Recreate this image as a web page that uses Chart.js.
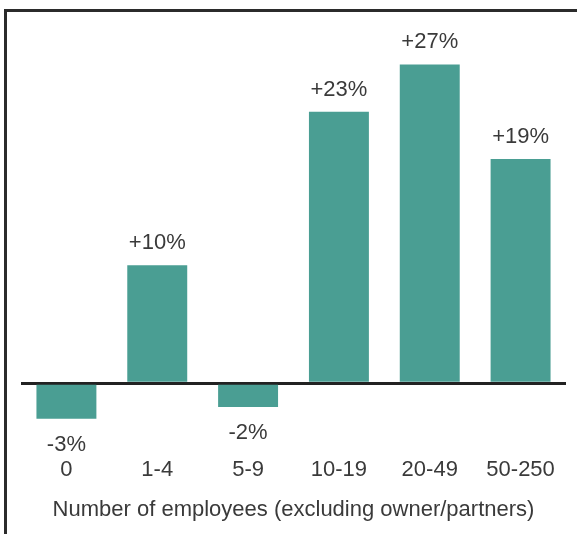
<!DOCTYPE html>
<html>
<head>
<meta charset="utf-8">
<script src="https://cdn.jsdelivr.net/npm/chart.js@4/dist/chart.umd.min.js"></script>
<style>
  html, body { margin: 0; padding: 0; background: #fff; overflow: hidden; }
  #wrap { position: relative; width: 577px; height: 534px; }
  #frame {
    position: absolute; left: 4px; top: 9px; width: 700px; height: 700px;
    border-left: 3px solid #2b2b2b; border-top: 3px solid #2b2b2b;
  }
  canvas { position: absolute; left: 0; top: 0; }
</style>
</head>
<body>
<div id="wrap">
  <div id="frame"></div>
  <canvas id="chart" width="577" height="534"></canvas>
</div>
<script>
const categories = ['0', '1-4', '5-9', '10-19', '20-49', '50-250'];
const growth = [-3, 10, -2, 23, 27, 19];

const FONT = '"Liberation Sans", Arial, sans-serif';
const TEXT = '#3a3a3a';
const SIZE = 22;

// writes "+23%" / "-3%" above positive bars and below negative ones
const valueLabels = {
  id: 'valueLabels',
  afterDatasetsDraw(chart) {
    const ctx = chart.ctx;
    const meta = chart.getDatasetMeta(0);
    ctx.save();
    ctx.font = SIZE + 'px ' + FONT;
    ctx.fillStyle = TEXT;
    ctx.textAlign = 'center';
    ctx.textBaseline = 'middle';
    meta.data.forEach((bar, i) => {
      const v = growth[i];
      const txt = (v > 0 ? '+' : '') + v + '%';
      const y = v >= 0 ? bar.y - 22 : bar.y + 26;
      ctx.fillText(txt, bar.x, y);
    });
    ctx.restore();
  }
};

new Chart(document.getElementById('chart').getContext('2d'), {
  type: 'bar',
  data: {
    labels: categories,
    datasets: [{
      data: growth,
      backgroundColor: '#4a9e93',
      barPercentage: 0.66,
      categoryPercentage: 1
    }]
  },
  options: {
    responsive: false,
    animation: false,
    layout: { padding: { left: 21, right: 11, top: 29, bottom: 11 } },
    scales: {
      x: {
        grid: { display: false, drawTicks: false },
        border: { display: false },
        ticks: { color: TEXT, font: { family: FONT, size: SIZE }, padding: 3 },
        title: {
          display: true,
          text: 'Number of employees (excluding owner/partners)',
          color: TEXT,
          font: { family: FONT, size: SIZE },
          padding: { top: 10, bottom: 0 }
        }
      },
      y: {
        min: -6,
        max: 30,
        ticks: { display: false, stepSize: 1 },
        border: { display: false },
        grid: {
          drawTicks: false,
          color: c => c.tick.value === 0 ? '#222222' : 'rgba(0,0,0,0)',
          lineWidth: c => c.tick.value === 0 ? 3 : 0
        }
      }
    },
    plugins: {
      legend: { display: false },
      tooltip: { enabled: false }
    }
  },
  plugins: [valueLabels]
});
</script>
</body>
</html>
